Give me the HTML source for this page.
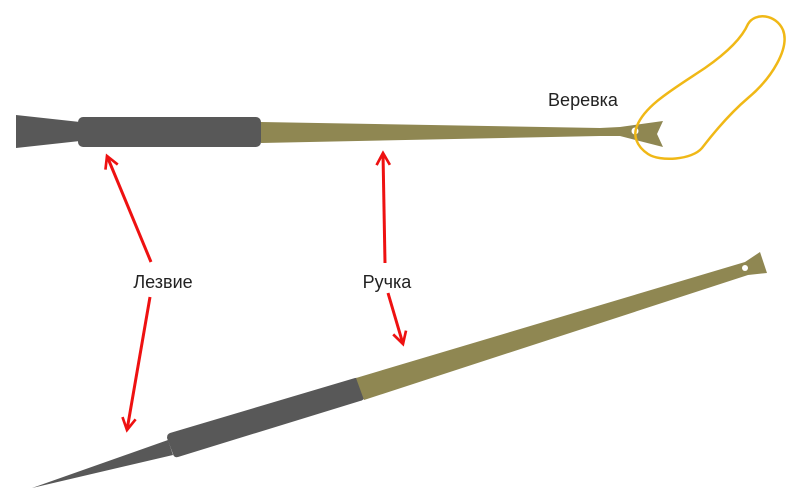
<!DOCTYPE html>
<html><head><meta charset="utf-8"><style>html,body{margin:0;padding:0;background:#fff}svg{display:block}</style></head>
<body>
<svg width="800" height="503" viewBox="0 0 800 503" xmlns="http://www.w3.org/2000/svg">
<defs>
<marker id="a" viewBox="0 0 12 12" markerWidth="16" markerHeight="16" refX="10" refY="6" orient="auto" markerUnits="userSpaceOnUse"><path d="M1,1 L10,6 L1,11" fill="none" stroke="#ee1111" stroke-width="2"/></marker></defs>
<!-- top tool -->
<path d="M16,115 L80,122 L80,141 L16,148 Z" fill="#585858"/>
<rect x="78" y="117" width="183" height="30" rx="5" fill="#585858"/>
<path d="M261,122 L600,128 L620,127 L663,121 L657,134 L663,147 L620,136 L600,136 L261,143 Z" fill="#8f8752"/>
<circle cx="635" cy="131" r="3.5" fill="#fff"/>
<path d="M637,126 C645,105 675,88 705,68 C728,52 742,38 748,24 C755,12 776,14 783,30 C790,48 772,78 748,98 C728,115 712,135 702,148 C692,160 660,162 648,154 C636,146 633,135 637,126 Z" fill="none" stroke="#f0b816" stroke-width="2.5"/>
<!-- bottom tool -->
<path d="M32,488 L168,440 L173,455 Z" fill="#585858"/>
<path d="M170,433 L355,378 Q360,377 361,382 L364,396 Q365,400 360,401 L178,457 Q174,458 173,454 L167,438 Q167,434 170,433 Z" fill="#585858"/>
<path d="M356,378 L745,262 L760,252 L767,273 L748,275 L364,400 Z" fill="#8f8752"/>
<circle cx="745" cy="268" r="3" fill="#fff"/>
<!-- arrows -->
<g stroke="#ee1111" stroke-width="3" fill="none">
<line x1="151" y1="262" x2="107" y2="156" marker-end="url(#a)"/>
<line x1="150" y1="297" x2="127" y2="430" marker-end="url(#a)"/>
<line x1="385" y1="263" x2="383" y2="153" marker-end="url(#a)"/>
<line x1="388" y1="293" x2="403" y2="344" marker-end="url(#a)"/>
</g>
<g font-family="Liberation Sans, sans-serif" font-size="18" fill="#222" text-anchor="middle">
<text x="163" y="288">Лезвие</text>
<text x="387" y="288">Ручка</text>
<text x="583" y="106">Веревка</text>
</g>
</svg>
</body></html>
